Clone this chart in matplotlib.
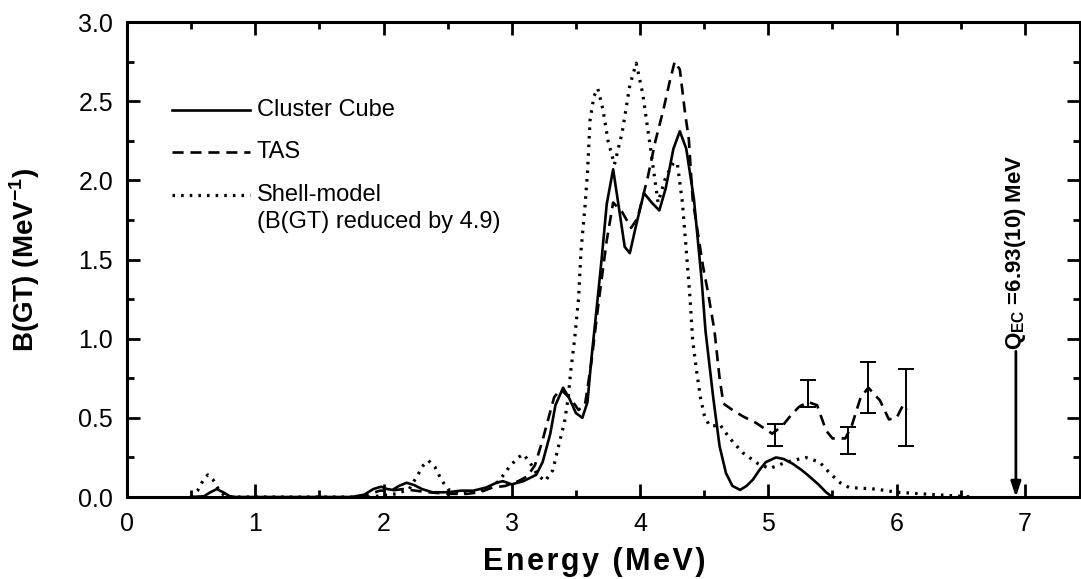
import numpy as np
import matplotlib
matplotlib.use("Agg")
import matplotlib.pyplot as plt

plt.rcParams['font.family'] = ['Liberation Sans', 'DejaVu Sans']
plt.rcParams['mathtext.fontset'] = 'custom'
plt.rcParams['mathtext.rm'] = 'Liberation Sans'
plt.rcParams['mathtext.bf'] = 'Liberation Sans:bold'

# ─── DATA ───────────────────────────────────────────────────────────────────
cube_e = [0.50, 0.60, 0.65, 0.70, 0.75, 0.80, 0.85, 1.75, 1.85, 1.92, 1.98, 2.03,
          2.07, 2.12, 2.18, 2.24, 2.30, 2.38, 2.50, 2.60, 2.70, 2.80, 2.88, 2.93,
          3.00, 3.09, 3.19, 3.24, 3.30, 3.34, 3.40, 3.45, 3.50, 3.55, 3.59, 3.62,
          3.66, 3.70, 3.74, 3.79, 3.84, 3.88, 3.92, 3.97, 4.03, 4.09, 4.15, 4.20,
          4.26, 4.31, 4.36, 4.42, 4.48, 4.51, 4.57, 4.62, 4.67, 4.72, 4.78, 4.83,
          4.88, 4.93, 4.98, 5.06, 5.12, 5.19, 5.26, 5.32, 5.39, 5.45, 5.50]
cube_b = [0.00, 0.005, 0.03, 0.05, 0.03, 0.005, 0.00, 0.00, 0.015, 0.05, 0.065, 0.05,
          0.045, 0.07, 0.09, 0.075, 0.05, 0.03, 0.03, 0.04, 0.04, 0.06, 0.09, 0.10,
          0.08, 0.10, 0.14, 0.22, 0.40, 0.58, 0.69, 0.62, 0.53, 0.50, 0.60, 0.87,
          1.18, 1.50, 1.85, 2.07, 1.80, 1.58, 1.54, 1.72, 1.92, 1.86, 1.81, 1.95,
          2.20, 2.31, 2.20, 1.88, 1.37, 1.05, 0.63, 0.32, 0.15, 0.07, 0.045, 0.07,
          0.11, 0.17, 0.22, 0.25, 0.24, 0.21, 0.17, 0.13, 0.08, 0.03, 0.00]

tas_e = [1.80, 1.90, 1.97, 2.05, 2.15, 2.25, 2.35, 2.50, 2.65, 2.75, 2.85, 2.95,
         3.05, 3.12, 3.18, 3.24, 3.29, 3.33, 3.38, 3.46, 3.52, 3.57, 3.62, 3.68,
         3.74, 3.79, 3.86, 3.93, 3.98, 4.06, 4.12, 4.18, 4.23, 4.27, 4.31, 4.35,
         4.38, 4.41, 4.49, 4.53, 4.58, 4.62, 4.65, 4.72, 4.80, 4.90, 5.03, 5.11,
         5.18, 5.24, 5.31, 5.38, 5.45, 5.50, 5.60, 5.65, 5.72, 5.78, 5.87, 5.94,
         6.00, 6.05, 6.08]
tas_b = [0.00, 0.02, 0.04, 0.04, 0.05, 0.04, 0.03, 0.02, 0.02, 0.03, 0.06, 0.07,
         0.10, 0.13, 0.20, 0.36, 0.51, 0.63, 0.68, 0.62, 0.55, 0.58, 0.85, 1.25,
         1.62, 1.86, 1.80, 1.70, 1.76, 2.02, 2.25, 2.44, 2.62, 2.75, 2.70, 2.43,
         2.26, 1.88, 1.46, 1.29, 1.05, 0.75, 0.59, 0.55, 0.51, 0.47, 0.40, 0.45,
         0.52, 0.57, 0.60, 0.58, 0.42, 0.37, 0.37, 0.45, 0.63, 0.69, 0.61, 0.49,
         0.50, 0.58, 0.55]

shell_e = [0.50, 0.55, 0.59, 0.63, 0.67, 0.72, 0.77, 1.90, 2.00, 2.10, 2.20, 2.26,
           2.31, 2.35, 2.40, 2.45, 2.50, 2.58, 2.70, 2.80, 2.90, 2.98, 3.05, 3.09,
           3.14, 3.20, 3.26, 3.32, 3.37, 3.41, 3.44, 3.46, 3.49, 3.52, 3.54, 3.57,
           3.59, 3.61, 3.64, 3.67, 3.71, 3.75, 3.80, 3.86, 3.92, 3.97, 4.02, 4.08,
           4.14, 4.20, 4.26, 4.29, 4.33, 4.36, 4.39, 4.41, 4.44, 4.47, 4.50, 4.54,
           4.58, 4.62, 4.70, 4.80, 4.92, 5.01, 5.14, 5.29, 5.40, 5.48, 5.56, 5.63,
           5.84, 6.00, 6.20, 6.40, 6.60]
shell_b = [0.00, 0.04, 0.10, 0.14, 0.11, 0.04, 0.00, 0.00, 0.01, 0.02, 0.05, 0.13,
           0.20, 0.23, 0.19, 0.11, 0.05, 0.02, 0.03, 0.05, 0.10, 0.19, 0.25, 0.27,
           0.22, 0.14, 0.10, 0.17, 0.34, 0.47, 0.63, 0.80, 1.00, 1.25, 1.56, 1.83,
           2.05, 2.38, 2.53, 2.58, 2.45, 2.25, 2.10, 2.30, 2.60, 2.74, 2.55, 2.21,
           1.86, 2.02, 2.11, 2.11, 1.86, 1.56, 1.25, 0.99, 0.80, 0.63, 0.52, 0.45,
           0.45, 0.46, 0.37, 0.28, 0.21, 0.18, 0.22, 0.25, 0.22, 0.15, 0.09, 0.06,
           0.05, 0.03, 0.02, 0.01, 0.00]

# TAS error bars (lower / upper ends)
err_e = [5.05, 5.31, 5.62, 5.78, 6.07]
err_lo = [0.32, 0.57, 0.27, 0.53, 0.32]
err_hi = [0.46, 0.74, 0.44, 0.85, 0.81]

q_ec = 6.93
q_ec_top = 0.92

labels = ["Cluster Cube", "TAS", "Shell-model"]
shell_note = "(B(GT) reduced by 4.9)"

# ─── FIGURE ─────────────────────────────────────────────────────────────────
fig = plt.figure(figsize=(10.81, 5.79), dpi=100)
ax = fig.add_axes([0.1175, 0.1416, 0.8816, 0.8204])

solid = dict(linestyle='-', linewidth=1.9)
dashed = dict(linestyle=(0, (4.2, 2.6)), linewidth=1.9)
dotted = dict(linestyle=(0, (0.8, 1.9)), linewidth=2.3)

ax.plot(cube_e, cube_b, color='black', **solid)
ax.plot(tas_e, tas_b, color='black', **dashed)
ax.plot(shell_e, shell_b, color='black', **dotted)

lo = np.array(err_lo)
hi = np.array(err_hi)
ax.errorbar(err_e, (lo + hi) / 2, yerr=(hi - lo) / 2, fmt='none', ecolor='black',
            elinewidth=1.4, capsize=5.5, capthick=1.4)

# Q_EC marker
ax.annotate("", xy=(q_ec, 0.0), xytext=(q_ec, q_ec_top),
            arrowprops=dict(arrowstyle='-|>,head_length=0.9,head_width=0.3',
                            color='black', lw=2.0, shrinkA=0, shrinkB=0))
ax.text(q_ec, q_ec_top + 0.01, r"Q$_{\mathbf{EC}}$ =6.93(10) MeV", rotation=90,
        ha='center', va='bottom', fontsize=16, fontweight='bold')

# hand-drawn legend (Shell-model note sits on its own second line)
rows = [0.815, 0.726, 0.636]
for lab, st, yy in zip(labels, [solid, dashed, dotted], rows):
    ax.plot([0.047, 0.129], [yy, yy], color='black', transform=ax.transAxes, **st)
    ax.text(0.136, yy, lab, transform=ax.transAxes, ha='left', va='center', fontsize=17)
ax.text(0.136, 0.579, shell_note, transform=ax.transAxes, ha='left', va='center', fontsize=17)

ax.set_xlim(0, 7.43)
ax.set_ylim(0, 3.0)
ax.set_xticks(np.arange(0, 8, 1))
ax.set_xticks(np.arange(0.5, 7.5, 1), minor=True)
ax.set_yticks(np.arange(0, 3.01, 0.5))
ax.set_yticks(np.arange(0.25, 3.0, 0.5), minor=True)
ax.yaxis.set_major_formatter(matplotlib.ticker.FormatStrFormatter('%.1f'))

ax.tick_params(which='both', direction='in', top=True, right=True, width=2.0,
               labelsize=18)
ax.tick_params(which='major', length=9.5)
ax.tick_params(which='minor', length=5)
ax.tick_params(axis='x', pad=11)
ax.tick_params(axis='y', pad=10)
for sp in ax.spines.values():
    sp.set_linewidth(2.2)

# the original x label is letter-spaced; hair spaces mimic that
ax.set_xlabel("\u200a".join("Energy (MeV)"), fontsize=22, fontweight='bold')
ax.set_ylabel(r"B(GT) (MeV$^{\mathbf{-1}}$)", fontsize=20, fontweight='bold')
ax.xaxis.set_label_coords(0.49, -0.105)
ax.yaxis.set_label_coords(-0.089, 0.5)

fig.savefig("out.png", dpi=100)
